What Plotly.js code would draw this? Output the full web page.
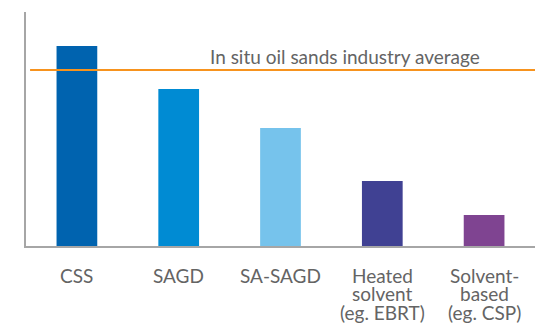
<!DOCTYPE html>
<html>
<head>
<meta charset="utf-8">
<script src="https://cdn.plot.ly/plotly-3.0.1.min.js"></script>
<style>
  html, body { margin: 0; padding: 0; background: #fff; }
  #chart { width: 535px; height: 323px; }
</style>
</head>
<body>
<div id="chart"></div>
<script>
// Recovery processes and their relative intensity (unitless scale)
const categories = ['CSS', 'SAGD', 'SA-SAGD', 'Heated solvent', 'Solvent-based'];
const tickLabels = [
  ['CSS'],
  ['SAGD'],
  ['SA-SAGD'],
  ['Heated', 'solvent', '(eg. EBRT)'],
  ['Solvent-', 'based', '(eg. CSP)']
];
const values = [200, 157, 118, 65, 31];
const barColors = ['#0063AF', '#008BD3', '#76C3EC', '#404193', '#7F4491'];
const industryAverage = 176;
const averageLabel = 'In situ oil sands industry average';

const gray = '#646464';
const axisGray = '#A6A6A6';
const fontFamily = 'Lato, sans-serif';

const trace = {
  type: 'bar',
  x: categories,
  y: values,
  marker: { color: barColors },
  width: 0.4,
  hoverinfo: 'skip'
};

// Category labels: one annotation per line for a tight line height
const labelAnnotations = [];
tickLabels.forEach((lines, i) => {
  lines.forEach((line, j) => {
    labelAnnotations.push({
      xref: 'x', yref: 'paper',
      x: categories[i], y: 0,
      xanchor: 'center', yanchor: 'middle',
      yshift: -29.5 - 18.3 * j,
      showarrow: false,
      text: line,
      font: { family: fontFamily, size: 19, color: gray }
    });
  });
});

const layout = {
  width: 535,
  height: 323,
  margin: { l: 26, r: 0, t: 12, b: 77 },
  paper_bgcolor: '#ffffff',
  plot_bgcolor: '#ffffff',
  showlegend: false,
  font: { family: fontFamily, size: 16, color: gray },
  xaxis: {
    type: 'category',
    range: [-0.5, 4.5],
    showgrid: false,
    zeroline: false,
    showline: true,
    linecolor: axisGray,
    linewidth: 2,
    ticks: '',
    showticklabels: false,
    fixedrange: true
  },
  yaxis: {
    range: [0, 234],
    showgrid: false,
    zeroline: false,
    showline: true,
    linecolor: axisGray,
    linewidth: 2,
    showticklabels: false,
    ticks: '',
    fixedrange: true
  },
  shapes: [{
    type: 'line',
    xref: 'paper', yref: 'y',
    x0: 0.008, x1: 1,
    y0: industryAverage, y1: industryAverage,
    line: { color: '#F7931E', width: 2 }
  }],
  annotations: [{
    xref: 'paper', yref: 'y',
    x: 0.626, y: industryAverage,
    xanchor: 'center', yanchor: 'middle',
    yshift: 14,
    showarrow: false,
    text: averageLabel,
    font: { family: fontFamily, size: 19, color: gray }
  }].concat(labelAnnotations)
};

Plotly.newPlot('chart', [trace], layout, { displayModeBar: false, staticPlot: true });
</script>
</body>
</html>
